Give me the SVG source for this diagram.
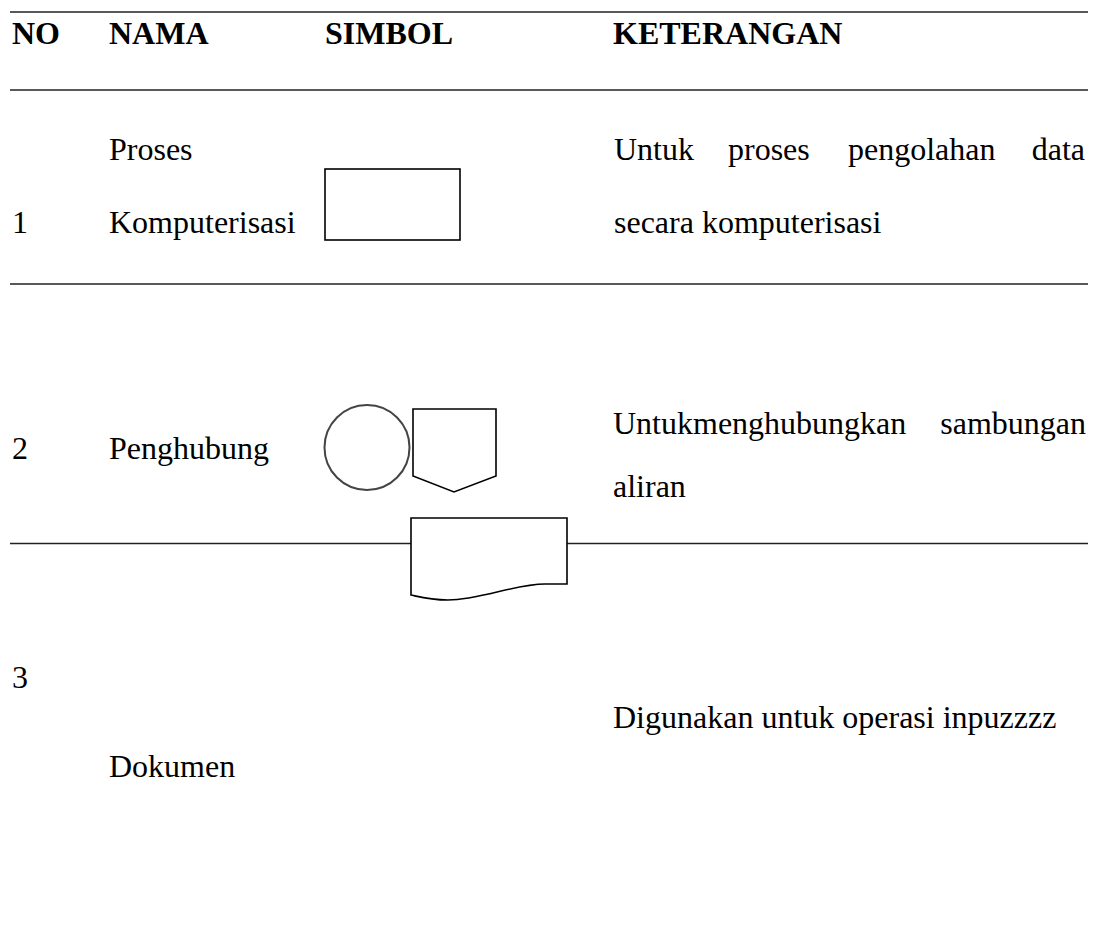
<svg xmlns="http://www.w3.org/2000/svg" width="1094" height="927" viewBox="0 0 1094 927">
<style>
text{font-size:32px;fill:#000}
.h{font-weight:bold}
.rule{stroke:#222;stroke-width:1.4;fill:none}
.sym{fill:#fff;stroke:#000;stroke-width:1.6}
</style>
<rect width="1094" height="927" fill="#fff"/>
<g id="rules">
<line class="rule" x1="10" y1="12" x2="1088" y2="12"/>
<line class="rule" x1="10" y1="90" x2="1088" y2="90"/>
<line class="rule" x1="10" y1="284" x2="1088" y2="284"/>
<line class="rule" x1="10" y1="543.5" x2="411" y2="543.5"/>
<line class="rule" x1="567" y1="543.5" x2="1088" y2="543.5"/>
</g>
<g font-family="'Liberation Serif', serif">
<g id="header">
<text class="h" x="12" y="44">NO</text>
<text class="h" x="109" y="44">NAMA</text>
<text class="h" x="325" y="44">SIMBOL</text>
<text class="h" x="613" y="44">KETERANGAN</text>
</g>
<g id="row1">
<text x="12" y="233">1</text>
<text x="109" y="160">Proses</text>
<text x="109" y="233">Komputerisasi</text>
<rect class="sym" x="325" y="169" width="135" height="71" stroke-width="2"/>
<text x="614" y="160">Untuk</text>
<text x="728" y="160">proses</text>
<text x="848" y="160">pengolahan</text>
<text x="1085" y="160" text-anchor="end">data</text>
<text x="614" y="233">secara komputerisasi</text>
</g>
<g id="row2">
<text x="12" y="459">2</text>
<text x="109" y="459">Penghubung</text>
<circle cx="367" cy="447.5" r="42.5" fill="#fff" stroke="#444" stroke-width="2"/>
<path class="sym" d="M413 409 H496 V476 L454 492 L413 476 Z"/>
<text x="613" y="434">Untukmenghubungkan</text>
<text x="1086" y="434" text-anchor="end">sambungan</text>
<text x="613" y="497">aliran</text>
</g>
<g id="row3">
<text x="12" y="688">3</text>
<text x="109" y="777">Dokumen</text>
<path class="sym" d="M411 518 H567 V584 H545 C515 584 480 600 448 600 C430 600 420 597 411 595 Z"/>
<text x="613" y="728">Digunakan untuk operasi inpuzzzz</text>
</g>
</g>
</svg>
